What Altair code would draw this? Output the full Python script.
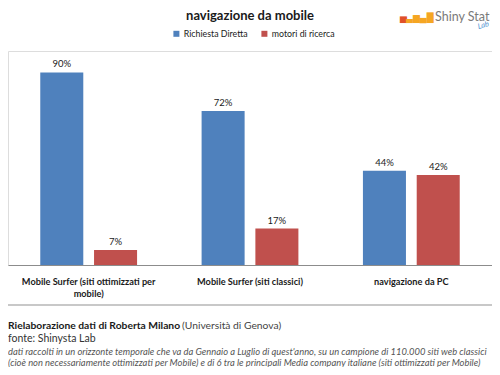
import altair as alt
import pandas as pd

categories = ["Mobile Surfer (siti ottimizzati per mobile)", "Mobile Surfer (siti classici)", "navigazione da PC"]
series = ["Richiesta Diretta", "motori di ricerca"]
richiesta_diretta = [90, 72, 44]
motori_di_ricerca = [7, 17, 42]
series_colors = ["#4F81BD", "#C0504D"]

title_text = "navigazione da mobile"
credit_bold = "Rielaborazione dati di Roberta Milano"
credit_normal = "(Università di Genova)"
source_text = "fonte: Shinysta Lab"
note_line1 = "dati raccolti in un orizzonte temporale che va da Gennaio a Luglio di quest'anno, su un campione di 110.000 siti web classici"
note_line2 = "(cioè non necessariamente ottimizzati per Mobile) e di 6 tra le principali Media company italiane (siti ottimizzati per Mobile)"

rows = []
for c, a, b in zip(categories, richiesta_diretta, motori_di_ricerca):
    rows.append({"cat": c, "serie": series[0], "val": a})
    rows.append({"cat": c, "serie": series[1], "val": b})
df = pd.DataFrame(rows)
df["lab"] = df["val"].astype(str) + "%"

FONT = "Lato"

x_enc = alt.X("cat:N", sort=categories, title=None,
              scale=alt.Scale(paddingInner=0.4, paddingOuter=0.2),
              axis=alt.Axis(labelAngle=0, ticks=False, domainColor="#8c8c8c", domainWidth=1,
                            labelFont=FONT, labelFontWeight="bold", labelFontSize=9.2,
                            labelColor="#1a1a1a", labelPadding=12, labelLimit=300,
                            labelLineHeight=12,
                            labelExpr="datum.label == 'Mobile Surfer (siti ottimizzati per mobile)' ? ['Mobile Surfer (siti ottimizzati per', 'mobile)'] : datum.label"))
xo_enc = alt.XOffset("serie:N", sort=series, scale=alt.Scale(paddingInner=0.2, paddingOuter=0))
y_enc = alt.Y("val:Q", scale=alt.Scale(domain=[0, 100]), axis=None)

bars = alt.Chart(df).mark_bar().encode(
    x=x_enc, xOffset=xo_enc, y=y_enc,
    color=alt.Color("serie:N", sort=series,
                    scale=alt.Scale(domain=series, range=series_colors),
                    legend=alt.Legend(title=None, orient="none", legendX=164, legendY=-22,
                                      direction="horizontal", symbolType="square", symbolSize=36,
                                      symbolStrokeWidth=0, labelFont=FONT, labelFontSize=8.8,
                                      labelColor="#1a1a1a", columnPadding=12, labelOffset=3)),
)

labels = alt.Chart(df).mark_text(dy=-3, font=FONT, fontSize=9.5, color="#1a1a1a", baseline="bottom").encode(
    x=x_enc, xOffset=xo_enc, y=y_enc, text="lab:N"
)

def txt(t, x, y, font=FONT, **kw):
    return alt.Chart(pd.DataFrame({"t": [t]})).mark_text(font=font, **kw).encode(
        text="t:N", x=alt.value(x), y=alt.value(y))

title = txt(title_text, 242, -35, fontSize=13, fontWeight="bold", color="#1a1a1a", align="center", baseline="middle")
logo_bar1 = txt("▅", 392, -30, font="DejaVu Sans", fontSize=9, color="#E0502A", align="left", baseline="alphabetic")
logo_bars = txt("▃▆▄█", 398, -30, font="DejaVu Sans", fontSize=9, color="#F5A623", align="left", baseline="alphabetic")
logo = txt("Shiny Stat", 427, -34, fontSize=12.5, color="#7a7a7a", align="left", baseline="middle")
logo_lab = txt("Lab", 470, -24, fontSize=7.5, fontStyle="italic", color="#4a8fd0", align="left", baseline="middle", angle=345)

border = alt.Chart(pd.DataFrame({"a": [0]})).mark_rule(color="#c8c8c8", strokeWidth=2).encode(
    x=alt.value(0), x2=alt.value(484), y=alt.value(254))

credit1 = txt(credit_bold, 0, 275, fontSize=10.3, fontWeight="bold", color="#1a1a1a", align="left", baseline="middle")
credit2 = txt(credit_normal, 174, 275, fontSize=10.3, color="#444444", align="left", baseline="middle")
source = txt(source_text, 0, 288, fontSize=10.5, color="#333333", align="left", baseline="middle")
note1 = txt(note_line1, 0, 304, fontSize=9.4, fontStyle="italic", color="#555555", align="left", baseline="alphabetic")
note2 = txt(note_line2, 0, 314.5, fontSize=9.4, fontStyle="italic", color="#555555", align="left", baseline="alphabetic")

chart = alt.layer(bars, labels, title, logo_bar1, logo_bars, logo, logo_lab, border,
                  credit1, credit2, source, note1, note2).properties(
    width=484, height=214,
    autosize=alt.AutoSizeParams(type="none"),
    padding={"left": 0, "top": 43, "right": 0, "bottom": 102},
).configure_view(fill="#e6e6e6", stroke=None).configure(background="white")

chart.save("out.html", embed_options={"renderer": "svg", "actions": False})
